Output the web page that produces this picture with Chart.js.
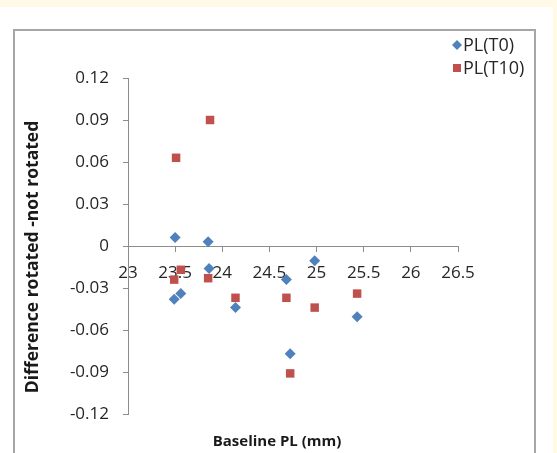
<!DOCTYPE html>
<html>
<head>
<meta charset="utf-8">
<script src="https://cdn.jsdelivr.net/npm/chart.js@4.4.0/dist/chart.umd.min.js"></script>
<style>
  html, body { margin: 0; padding: 0; background: #fff9e6; }
  #stage { position: relative; width: 557px; height: 453px; overflow: hidden; }
  #panel { position: absolute; left: 0; top: 7px; width: 553px; height: 446px; background: #fff; }
  #frame { position: absolute; left: 13px; top: 29px; width: 519px; height: 440px; border: 2px solid #a6a6a6; }
  canvas { position: absolute; left: 0; top: 0; }
</style>
</head>
<body>
<div id="stage">
  <div id="panel"></div>
  <div id="frame"></div>
  <canvas id="chart" width="557" height="453"></canvas>
</div>
<script>
const SERIES_LABELS = ['PL(T0)', 'PL(T10)'];
const T0_X = [23.50, 23.49, 23.56, 23.85, 23.86, 24.14, 24.68, 24.72, 24.98, 25.43];
const T0_Y = [0.006, -0.038, -0.034, 0.003, -0.016, -0.044, -0.024, -0.077, -0.0105, -0.0505];
const T10_X = [23.51, 23.49, 23.56, 23.87, 23.85, 24.14, 24.68, 24.72, 24.98, 25.43];
const T10_Y = [0.063, -0.024, -0.017, 0.090, -0.023, -0.037, -0.037, -0.091, -0.044, -0.034];
const X_TICKS = [23, 23.5, 24, 24.5, 25, 25.5, 26, 26.5];
const Y_TICKS = [-0.12, -0.09, -0.06, -0.03, 0, 0.03, 0.06, 0.09, 0.12];
const X_TITLE = 'Baseline PL (mm)';
const Y_TITLE = 'Difference rotated -not rotated';

const COLORS = { t0: '#4f81bd', t10: '#c0504d' };
const AXIS_COLOR = '#8c8c8c';
const TEXT_COLOR = '#262626';
const FONT = '"Open Sans", sans-serif';

function toPoints(xs, ys) {
  return xs.map((x, i) => ({ x, y: ys[i] }));
}

// titles and the stacked legend are drawn by hand, the way Excel lays them out
const titlesLegendPlugin = {
  id: 'titlesLegend',
  afterDraw(chart) {
    const { ctx } = chart;
    ctx.save();
    ctx.fillStyle = '#1a1a1a';
    ctx.textAlign = 'center';
    ctx.textBaseline = 'middle';
    ctx.font = `bold 15px ${FONT}`;
    ctx.fillText(X_TITLE, 277, 442);
    ctx.save();
    ctx.translate(33, 257);
    ctx.rotate(-Math.PI / 2);
    ctx.font = `bold 17.5px ${FONT}`;
    ctx.fillText(Y_TITLE, 0, 0);
    ctx.restore();

    ctx.font = `18px ${FONT}`;
    ctx.textAlign = 'left';
    chart.data.datasets.forEach((ds, i) => {
      const cy = 45 + i * 23;
      const cx = 457;
      ctx.fillStyle = ds.backgroundColor;
      ctx.beginPath();
      if (ds.pointStyle === 'rectRot') {
        ctx.moveTo(cx, cy - 5);
        ctx.lineTo(cx + 5, cy);
        ctx.lineTo(cx, cy + 5);
        ctx.lineTo(cx - 5, cy);
        ctx.closePath();
      } else {
        ctx.rect(cx - 4, cy - 4, 8, 8);
      }
      ctx.fill();
      ctx.fillStyle = TEXT_COLOR;
      ctx.fillText(ds.label, 463, cy + 1);
    });
    ctx.restore();
  }
};

new Chart(document.getElementById('chart'), {
  type: 'scatter',
  data: {
    datasets: [
      {
        label: SERIES_LABELS[0],
        data: toPoints(T0_X, T0_Y),
        pointStyle: 'rectRot',
        pointRadius: 5.5,
        backgroundColor: COLORS.t0,
        borderColor: COLORS.t0,
        borderWidth: 0
      },
      {
        label: SERIES_LABELS[1],
        data: toPoints(T10_X, T10_Y),
        pointStyle: 'rect',
        pointRadius: 6,
        backgroundColor: COLORS.t10,
        borderColor: COLORS.t10,
        borderWidth: 0
      }
    ]
  },
  options: {
    responsive: false,
    animation: false,
    layout: { padding: { left: 20, right: 99, top: 78, bottom: 39 } },
    plugins: {
      legend: { display: false },
      tooltip: { enabled: false }
    },
    scales: {
      x: {
        type: 'linear',
        position: { y: 0 },
        min: X_TICKS[0],
        max: X_TICKS[X_TICKS.length - 1],
        afterBuildTicks: (scale) => { scale.ticks = X_TICKS.map((value) => ({ value })); },
        ticks: {
          autoSkip: false,
          maxRotation: 0,
          padding: 12,
          color: TEXT_COLOR,
          font: { family: FONT, size: 17 },
          callback: (value) => String(value)
        },
        grid: { drawOnChartArea: false, drawTicks: true, tickLength: 5, color: AXIS_COLOR },
        border: { display: true, color: AXIS_COLOR, width: 1 }
      },
      y: {
        type: 'linear',
        position: 'left',
        min: Y_TICKS[0],
        max: Y_TICKS[Y_TICKS.length - 1],
        afterBuildTicks: (scale) => { scale.ticks = Y_TICKS.map((value) => ({ value })); },
        afterFit: (scale) => { scale.width = 108; },
        ticks: {
          autoSkip: false,
          padding: 14,
          color: TEXT_COLOR,
          font: { family: FONT, size: 17 },
          callback: (value) => String(value)
        },
        grid: { drawOnChartArea: false, drawTicks: true, tickLength: 5, color: AXIS_COLOR },
        border: { display: true, color: AXIS_COLOR, width: 1 }
      }
    }
  },
  plugins: [titlesLegendPlugin]
});
</script>
</body>
</html>
